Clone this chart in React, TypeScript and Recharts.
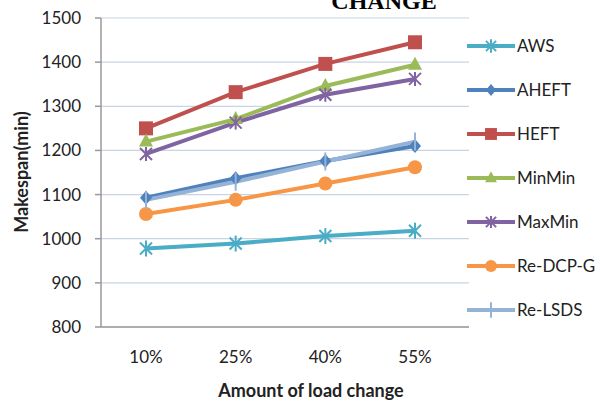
import { LineChart, Line, XAxis, YAxis, CartesianGrid } from "recharts";

const categories = ["10%", "25%", "40%", "55%"];
const aws = [978, 989, 1006, 1018];
const aheft = [1093, 1137, 1176, 1210];
const heft = [1250, 1332, 1396, 1445];
const minMin = [1220, 1271, 1346, 1394];
const maxMin = [1192, 1263, 1326, 1362];
const reDcpG = [1056, 1088, 1125, 1162];
const reLsds = [1088, 1129, 1175, 1220];
const yTicks = [800, 900, 1000, 1100, 1200, 1300, 1400, 1500];

const data = categories.map((c, i) => ({
  cat: c,
  AWS: aws[i],
  AHEFT: aheft[i],
  HEFT: heft[i],
  MinMin: minMin[i],
  MaxMin: maxMin[i],
  "Re-DCP-G": reDcpG[i],
  "Re-LSDS": reLsds[i],
}));

const FONT = "Lato, 'Open Sans', sans-serif";

type Shape = "star" | "diamond" | "square" | "triangle" | "x" | "circle" | "plus";

function marker(shape: Shape, x: number, y: number, color: string, s = 1) {
  switch (shape) {
    case "star":
      return (
        <g stroke={color} strokeWidth={2}>
          <line x1={x - 6 * s} y1={y - 6 * s} x2={x + 6 * s} y2={y + 6 * s} />
          <line x1={x - 6 * s} y1={y + 6 * s} x2={x + 6 * s} y2={y - 6 * s} />
          <line x1={x} y1={y - 8 * s} x2={x} y2={y + 8 * s} />
        </g>
      );
    case "x":
      return (
        <g stroke={color} strokeWidth={2}>
          <line x1={x - 6 * s} y1={y - 6 * s} x2={x + 6 * s} y2={y + 6 * s} />
          <line x1={x - 6 * s} y1={y + 6 * s} x2={x + 6 * s} y2={y - 6 * s} />
          <line x1={x} y1={y - 7 * s} x2={x} y2={y + 7 * s} />
        </g>
      );
    case "diamond":
      return (
        <polygon
          points={`${x},${y - 7 * s} ${x + 6 * s},${y} ${x},${y + 7 * s} ${x - 6 * s},${y}`}
          fill={color}
        />
      );
    case "square":
      return <rect x={x - 7 * s} y={y - 7 * s} width={14 * s} height={14 * s} fill={color} />;
    case "triangle":
      return (
        <polygon
          points={`${x},${y - 8 * s} ${x + 7 * s},${y + 5 * s} ${x - 7 * s},${y + 5 * s}`}
          fill={color}
        />
      );
    case "circle":
      return <circle cx={x} cy={y} r={7 * s} fill={color} />;
    case "plus":
      return (
        <g stroke={color} strokeWidth={2}>
          <line x1={x} y1={y - 9 * s} x2={x} y2={y + 9 * s} />
        </g>
      );
  }
}

const series: { key: string; color: string; shape: Shape }[] = [
  { key: "AWS", color: "#4bacc6", shape: "star" },
  { key: "AHEFT", color: "#4f81bd", shape: "diamond" },
  { key: "HEFT", color: "#c0504d", shape: "square" },
  { key: "MinMin", color: "#9bbb59", shape: "triangle" },
  { key: "MaxMin", color: "#8064a2", shape: "x" },
  { key: "Re-DCP-G", color: "#f79646", shape: "circle" },
  { key: "Re-LSDS", color: "#95b3d7", shape: "plus" },
];

function LegendGroup() {
  return (
    <g transform="translate(465 46)">
      {series.map((s, i) => {
        const y = i * 44;
        return (
          <g key={s.key}>
            <line x1={2} y1={y} x2={50} y2={y} stroke={s.color} strokeWidth={4} />
            {marker(s.shape, 26, y, s.color, 0.85)}
            <text x={52} y={y + 6} fontFamily={FONT} fontSize={17} fill="#222">
              {s.key}
            </text>
          </g>
        );
      })}
    </g>
  );
}

export default function App() {
  return (
    <div style={{ position: "absolute", left: 0, top: 0, width: 600, height: 406, background: "#fff" }}>
      <LineChart
        width={600}
        height={406}
        data={data}
        margin={{ top: 18, right: 131, bottom: 0, left: 0 }}
      >
        <text
          x={384}
          y={9}
          textAnchor="middle"
          fontFamily="'Liberation Serif', 'Times New Roman', serif"
          fontWeight="bold"
          fontSize={24}
          fill="#000"
        >
          CHANGE
        </text>
        <text
          x={311}
          y={397}
          textAnchor="middle"
          fontFamily={FONT}
          fontWeight="bold"
          fontSize={18}
          fill="#222"
        >
          Amount of load change
        </text>
        <text
          x={0}
          y={0}
          transform="translate(28 172) rotate(-90)"
          textAnchor="middle"
          fontFamily={FONT}
          fontWeight="bold"
          fontSize={18}
          fill="#222"
        >
          Makespan(min)
        </text>
        <LegendGroup />
        <CartesianGrid vertical={false} stroke="#c8d4e3" strokeWidth={1.2} />
        <XAxis
          dataKey="cat"
          height={79}
          padding={{ left: 45, right: 54 }}
          stroke="#999"
          strokeWidth={1.5}
          tickLine={false}
          tick={{ fontFamily: FONT, fontSize: 17, fill: "#222" }}
          tickMargin={18}
        />
        <YAxis
          width={101}
          domain={[800, 1500]}
          ticks={yTicks}
          interval={0}
          stroke="#999"
          strokeWidth={1.5}
          tickSize={6}
          tickMargin={14}
          tick={{ fontFamily: FONT, fontSize: 17, fill: "#222" }}
        />
        {series.map((s) => (
          <Line
            key={s.key}
            dataKey={s.key}
            stroke={s.color}
            strokeWidth={4}
            isAnimationActive={false}
            dot={(p: any) => <g key={`${s.key}-${p.index}`}>{marker(s.shape, p.cx, p.cy, s.color)}</g>}
            activeDot={false}
          />
        ))}
      </LineChart>
    </div>
  );
}
